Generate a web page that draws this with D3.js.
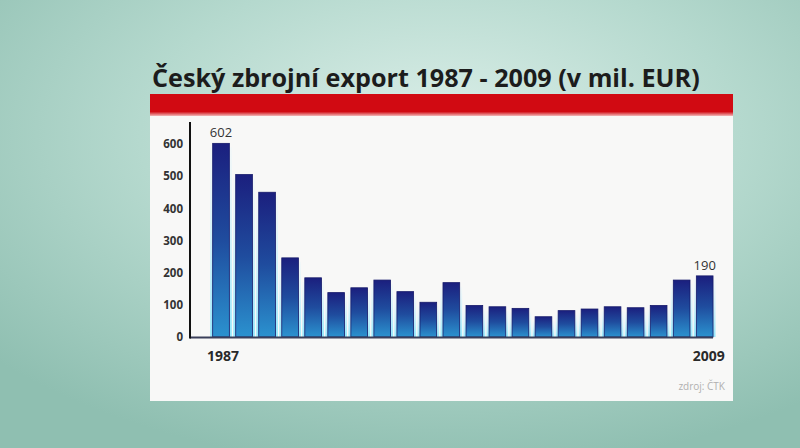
<!DOCTYPE html>
<html><head><meta charset="utf-8">
<script src="https://cdn.jsdelivr.net/npm/d3@7"></script>
<style>html,body{margin:0;padding:0;overflow:hidden;background:#9cc8bc}</style>
</head><body><svg id="c" width="800" height="448"></svg>
<script>
const years = ["1987","1988","1989","1990","1991","1992","1994","1995","1996","1997","1998","1999","2000","2001","2002","2003","2004","2005","2006","2007","2008","2009"];
const values = [602,505,450,246,184,138,153,177,141,108,169,98,94,89,63,82,87,94,91,98,177,190];
const yTicks = [0,100,200,300,400,500,600];
const titleText = "Český zbrojní export 1987 - 2009 (v mil. EUR)";
const sourceText = "zdroj: ČTK";
const labelled = {"1987":"602","2009":"190"};

const svg = d3.select("#c");
const defs = svg.append("defs");
const bg = defs.append("radialGradient").attr("id","bg").attr("cx","0.55").attr("cy","0.3").attr("r","0.75");
bg.append("stop").attr("offset","0").attr("stop-color","#dcefe9");
bg.append("stop").attr("offset","0.5").attr("stop-color","#b5d9ce");
bg.append("stop").attr("offset","1").attr("stop-color","#8fbfb1");
const bar = defs.append("linearGradient").attr("id","bar").attr("x1",0).attr("y1",0).attr("x2",0).attr("y2",1);
bar.append("stop").attr("offset","0").attr("stop-color","#1b1f7e");
bar.append("stop").attr("offset","0.5").attr("stop-color","#1f4c9e");
bar.append("stop").attr("offset","1").attr("stop-color","#2b92cf");
const glow = defs.append("linearGradient").attr("id","glow").attr("x1",0).attr("y1",0).attr("x2",0).attr("y2",1);
glow.append("stop").attr("offset","0").attr("stop-color","#bfefff").attr("stop-opacity",0.1);
glow.append("stop").attr("offset","1").attr("stop-color","#8fe6fb").attr("stop-opacity",0.95);
const red = defs.append("linearGradient").attr("id","red").attr("x1",0).attr("y1",0).attr("x2",0).attr("y2",1);
red.append("stop").attr("offset","0").attr("stop-color","#d10a12");
red.append("stop").attr("offset","0.8").attr("stop-color","#d10a12");
red.append("stop").attr("offset","1").attr("stop-color","#f3b9b9");

svg.append("rect").attr("width",800).attr("height",448).attr("fill","url(#bg)");

// panel
svg.append("rect").attr("x",150).attr("y",114).attr("width",583).attr("height",287).attr("fill","#f8f8f7");
svg.append("rect").attr("x",150).attr("y",94).attr("width",583).attr("height",22).attr("fill","url(#red)");

// title
const t = svg.append("text").attr("x",152).attr("y",87).attr("font-family","'Open Sans', sans-serif")
  .attr("font-weight",700).attr("font-size",22).attr("fill","#1c1c1c").text(titleText);
const len = t.node().getComputedTextLength();
t.attr("font-size", 22*548/len);

const x = d3.scaleBand().domain(years).range([209.5,716.2]).paddingInner(0.275).paddingOuter(0.1375);
const y = d3.scaleLinear().domain([0,600]).range([337,144]);

const g = svg.append("g");
g.selectAll("rect.glow").data(values).join("rect").attr("class","glow")
  .attr("x",(d,i)=>x(years[i])-2.5).attr("width",x.bandwidth()+5)
  .attr("y",d=>y(d)+4).attr("height",d=>y(0)-y(d)-4).attr("fill","url(#glow)");
g.selectAll("rect.bar").data(values).join("rect").attr("class","bar")
  .attr("x",(d,i)=>x(years[i])).attr("width",x.bandwidth())
  .attr("y",d=>y(d)).attr("height",d=>y(0)-y(d)).attr("fill","url(#bar)")
  .attr("stroke","#161a6a").attr("stroke-width",0.8);

// axes
const ya = d3.axisLeft(y).tickValues(yTicks).tickSize(0).tickPadding(0).tickFormat(d3.format("d"));
const yg = svg.append("g").attr("transform","translate(183,0)").call(ya);
yg.select(".domain").remove();
yg.selectAll("text").attr("font-family","'Open Sans', sans-serif").attr("font-weight",700)
  .attr("font-size",11.5).attr("fill","#333");

svg.append("line").attr("x1",190).attr("x2",x(years[years.length-1])+x.bandwidth()).attr("y1",y(0)+0.5).attr("y2",y(0)+0.5)
  .attr("stroke","#3a3f5a").attr("stroke-width",2);
svg.append("line").attr("x1",190).attr("x2",190).attr("y1",122).attr("y2",y(0)+1.5)
  .attr("stroke","#111").attr("stroke-width",2);

// value labels
years.forEach((yr,i)=>{
  if(labelled[yr]){
    svg.append("text").attr("x",x(yr)+x.bandwidth()/2).attr("y",y(values[i])-6)
      .attr("text-anchor","middle").attr("font-family","'Open Sans', sans-serif")
      .attr("font-size",13).attr("fill","#333").text(labelled[yr]);
  }
});
// year labels
const first = years[0], last = years[years.length-1];
svg.append("text").attr("x",x(first)+x.bandwidth()/2+2).attr("y",361).attr("text-anchor","middle")
  .attr("font-family","'Open Sans', sans-serif").attr("font-weight",700).attr("font-size",14).attr("fill","#2a2a2a").text(first);
svg.append("text").attr("x",x(last)+x.bandwidth()/2+4).attr("y",361).attr("text-anchor","middle")
  .attr("font-family","'Open Sans', sans-serif").attr("font-weight",700).attr("font-size",14).attr("fill","#2a2a2a").text(last);

svg.append("text").attr("x",725).attr("y",390).attr("text-anchor","end")
  .attr("font-family","'Open Sans', sans-serif").attr("font-size",10).attr("fill","#b0b0b0").text(sourceText);
</script></body></html>
